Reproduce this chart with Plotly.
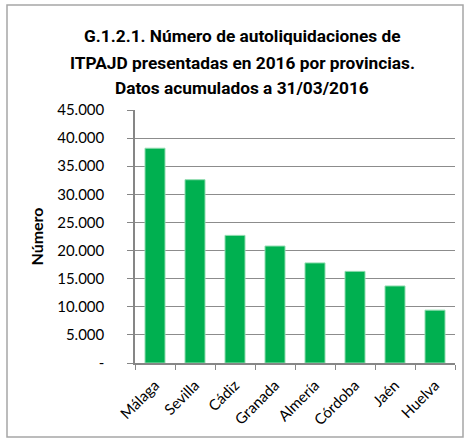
import plotly.graph_objects as go

provincias = ["Málaga", "Sevilla", "Cádiz", "Granada", "Almería", "Córdoba", "Jaén", "Huelva"]
valores = [38200, 32600, 22700, 20800, 17800, 16300, 13700, 9400]
tick_vals = [0, 5000, 10000, 15000, 20000, 25000, 30000, 35000, 40000, 45000]
tick_text = ["-", "5.000", "10.000", "15.000", "20.000", "25.000", "30.000", "35.000", "40.000", "45.000"]
titulo = [
    "G.1.2.1. Número de autoliquidaciones de",
    "ITPAJD presentadas en 2016 por provincias.",
    "Datos acumulados a 31/03/2016",
]

fig = go.Figure()
fig.add_trace(go.Bar(
    x=provincias, y=valores,
    marker=dict(color="#00B050", line=dict(color="#8fdcaf", width=1)),
))

title_y = [1.292, 1.186, 1.087]
annotations = [
    dict(text="<b>%s</b>" % line, xref="paper", yref="paper", x=0.3344, y=yy,
         xanchor="center", yanchor="middle", showarrow=False,
         font=dict(family="Liberation Sans Narrow, Roboto, sans-serif", size=17.3, color="#000000"))
    for line, yy in zip(titulo, title_y)
]

fig.update_layout(
    width=470, height=442,
    margin=dict(l=135, r=15, t=110, b=79),
    paper_bgcolor="white", plot_bgcolor="white",
    bargap=0.5,
    showlegend=False,
    font=dict(family="Lato, Open Sans, sans-serif", color="#000000", size=14),
    annotations=annotations,
    shapes=[dict(type="rect", xref="paper", yref="paper",
                 x0=-0.4, x1=1.025, y0=-0.2925, y1=1.415,
                 line=dict(color="#a6a6a6", width=1.5), fillcolor="rgba(0,0,0,0)", layer="below")],
)

fig.update_xaxes(
    showline=True, linecolor="#868686", linewidth=1.5,
    ticks="outside", tickson="boundaries", ticklen=5, tickcolor="#868686",
    tickangle=-45, tickfont=dict(size=15), showgrid=False,
    ticklabelstandoff=6, automargin=False,
)
fig.update_yaxes(
    range=[0, 45000], tickvals=tick_vals, ticktext=tick_text,
    showline=True, linecolor="#868686", linewidth=1.5,
    ticks="outside", ticklen=6, tickcolor="#868686",
    showgrid=True, gridcolor="#8c8c8c", gridwidth=1,
    tickfont=dict(size=15), ticklabelstandoff=20, automargin=False,
    title=dict(text="<b>Número</b>", font=dict(size=16), standoff=10),
)

fig.write_html("out.html", post_script="document.body.style.margin='0';",
               config={"displayModeBar": False})
